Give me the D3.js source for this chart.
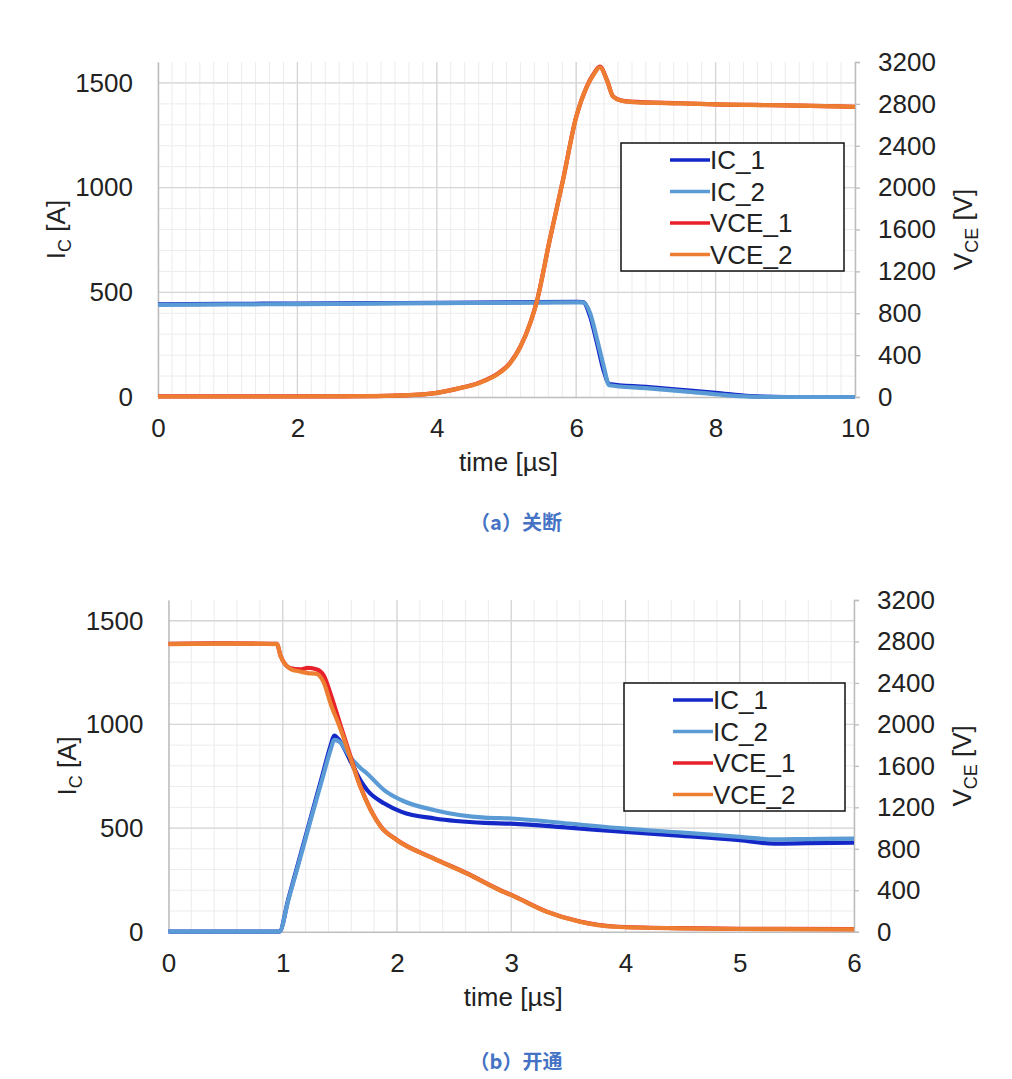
<!DOCTYPE html>
<html>
  <head>
    <meta charset="utf-8">
    <title>IGBT switching waveforms</title>
    <script src="https://d3js.org/d3.v7.min.js"></script>
    <style>
      body { margin: 0; background: #fff; }
      text { font-family: "Liberation Sans", Arial, sans-serif; fill: #222; }
    </style>
  </head>
  <body>
    <div id="chart"></div>
    <script>
      // ---- data ----
      // (a) turn-off, time in µs
      var offTimeIC = [0, 1, 2, 3, 4, 5, 6, 6.1, 6.2, 6.3, 6.4, 6.47, 7, 7.5, 8, 8.5, 9, 10];
      var offIC1 = [443, 445, 446, 448, 450, 452, 455, 453, 385, 255, 120, 62, 48, 34, 20, 4, 0, 0];
      var offIC2 = [440, 442, 444, 446, 448, 450, 452, 452, 400, 275, 140, 56, 42, 28, 13, 2, 0, 0];
      var offTimeV = [0, 1, 2, 3, 3.5, 4, 4.3, 4.6, 4.9, 5.05, 5.2, 5.34, 5.43, 5.62, 5.81, 6.0, 6.15, 6.25, 6.34, 6.44, 6.53, 6.65, 6.77, 7.5, 8, 9, 10];
      var offVCE1 = [6, 6, 6, 8, 15, 40, 80, 135, 235, 325, 482, 706, 900, 1500, 2072, 2677, 2963, 3085, 3155, 3030, 2870, 2832, 2822, 2806, 2796, 2786, 2772];
      var offVCE2 = [5, 5, 5, 8, 15, 40, 80, 132, 230, 320, 480, 706, 898, 1500, 2070, 2675, 2960, 3080, 3150, 3027, 2868, 2830, 2820, 2804, 2795, 2785, 2772];

      // (b) turn-on
      var onTimeIC = [0, 0.97, 1.05, 1.15, 1.25, 1.35, 1.42, 1.45, 1.5, 1.59, 1.68, 1.74, 1.89, 2.04, 2.33, 2.77, 3, 3.5, 4, 4.5, 5, 5.3, 5.6, 6];
      var onIC1 = [0, 0, 160, 360, 560, 760, 900, 946, 920, 826, 730, 682, 618, 578, 546, 525, 521, 502, 481, 462, 441, 425, 427, 430];
      var onIC2 = [0, 0, 155, 350, 550, 745, 880, 925, 915, 842, 790, 762, 682, 634, 586, 550, 546, 522, 497, 478, 457, 445, 447, 449];
      var onTimeV = [0, 0.5, 0.95, 0.98, 1.07, 1.15, 1.22, 1.3, 1.36, 1.42, 1.5, 1.59, 1.68, 1.77, 1.86, 2.0, 2.32, 2.61, 2.9, 3.0, 3.31, 3.6, 3.9, 4.48, 5, 6];
      var onVCE1 = [2778, 2782, 2776, 2665, 2540, 2530, 2545, 2530, 2470, 2290, 2010, 1700, 1400, 1175, 1012, 884, 708, 564, 402, 355, 194, 98, 50, 34, 28, 25];
      var onVCE2 = [2775, 2780, 2775, 2662, 2534, 2510, 2495, 2486, 2400, 2197, 1972, 1683, 1395, 1171, 1010, 882, 706, 562, 400, 353, 192, 96, 48, 32, 26, 23];

      var seriesNames = ["IC_1", "IC_2", "VCE_1", "VCE_2"];
      var seriesColors = ["#1428c8", "#5b9bd5", "#e8202a", "#ed7d31"];
      var leftTicks = [0, 500, 1000, 1500];
      var rightTicks = [0, 400, 800, 1200, 1600, 2000, 2400, 2800, 3200];

      var svg = d3.select("#chart").append("svg")
        .attr("width", 1012)
        .attr("height", 1079);

      function pairs(t, v) { return t.map(function (d, i) { return [d, v[i]]; }); }

      function drawChart(c) {
        var g = svg.append("g");
        var x = d3.scaleLinear().domain([0, c.tMax]).range([c.left, c.right]);
        var y = d3.scaleLinear().domain([0, 1600]).range([c.bottom, c.top]);
        var yR = d3.scaleLinear().domain([0, 3200]).range([c.bottom, c.top]);

        // minor grid
        g.append("g").selectAll("line")
          .data(d3.range(0, c.tMax + 0.001, 0.2))
          .enter().append("line")
            .attr("x1", function (d) { return x(d); }).attr("x2", function (d) { return x(d); })
            .attr("y1", c.top).attr("y2", c.bottom)
            .style("stroke", "#ececec").style("stroke-width", 1);
        g.append("g").selectAll("line")
          .data(d3.range(100, 1600, 100))
          .enter().append("line")
            .attr("x1", c.left).attr("x2", c.right)
            .attr("y1", function (d) { return y(d); }).attr("y2", function (d) { return y(d); })
            .style("stroke", "#ececec").style("stroke-width", 1);
        // major grid
        g.append("g").selectAll("line")
          .data(d3.range(c.tStep, c.tMax, c.tStep))
          .enter().append("line")
            .attr("x1", function (d) { return x(d); }).attr("x2", function (d) { return x(d); })
            .attr("y1", c.top).attr("y2", c.bottom)
            .style("stroke", "#d6d6d6").style("stroke-width", 1.3);
        g.append("g").selectAll("line")
          .data([500, 1000, 1500])
          .enter().append("line")
            .attr("x1", c.left).attr("x2", c.right)
            .attr("y1", function (d) { return y(d); }).attr("y2", function (d) { return y(d); })
            .style("stroke", "#d6d6d6").style("stroke-width", 1.3);

        // axes
        var ax = g.append("g").attr("transform", "translate(0," + c.bottom + ")")
          .call(d3.axisBottom(x).tickValues(d3.range(0, c.tMax + 0.001, c.tStep)).tickSize(0).tickPadding(22).tickFormat(d3.format("d")));
        var ay = g.append("g").attr("transform", "translate(" + c.left + ",0)")
          .call(d3.axisLeft(y).tickValues(leftTicks).tickSize(0).tickPadding(25).tickFormat(d3.format("d")));
        var ar = g.append("g").attr("transform", "translate(" + c.right + ",0)")
          .call(d3.axisRight(yR).tickValues(rightTicks).tickSize(5).tickPadding(18).tickFormat(d3.format("d")));
        [ax, ay, ar].forEach(function (a) {
          a.select(".domain").style("stroke", "#bdbdbd").style("stroke-width", 1.5);
          a.selectAll(".tick line").style("stroke", "#bdbdbd").style("stroke-width", 1.3);
          a.selectAll(".tick text").style("font-size", "26px").style("fill", "#222")
            .style("font-family", "'Liberation Sans', Arial, sans-serif");
        });

        // traces
        var lineL = d3.line().x(function (d) { return x(d[0]); }).y(function (d) { return y(d[1]); }).curve(d3.curveMonotoneX);
        var lineR = d3.line().x(function (d) { return x(d[0]); }).y(function (d) { return yR(d[1]); }).curve(d3.curveMonotoneX);
        var traces = [
          { d: lineL(pairs(c.tI, c.ic1)), col: seriesColors[0] },
          { d: lineL(pairs(c.tI, c.ic2)), col: seriesColors[1] },
          { d: lineR(pairs(c.tV, c.vce1)), col: seriesColors[2] },
          { d: lineR(pairs(c.tV, c.vce2)), col: seriesColors[3] }
        ];
        g.append("g").selectAll("path")
          .data(traces)
          .enter().append("path")
            .attr("d", function (d) { return d.d; })
            .style("fill", "none")
            .style("stroke", function (d) { return d.col; })
            .style("stroke-width", 4.2)
            .style("stroke-linejoin", "round");

        // axis titles
        g.append("text")
          .attr("x", (c.left + c.right) / 2 + 2).attr("y", c.bottom + 74)
          .attr("text-anchor", "middle").style("font-size", "26px")
          .text("time [µs]");
        var tl = g.append("text")
          .attr("transform", "translate(" + (c.left - 93) + "," + ((c.top + c.bottom) / 2) + ") rotate(-90)")
          .attr("text-anchor", "middle").style("font-size", "26px");
        tl.append("tspan").text("I");
        tl.append("tspan").attr("dy", 6).style("font-size", "18px").text("C");
        tl.append("tspan").attr("dy", -6).text(" [A]");
        var tr = g.append("text")
          .attr("transform", "translate(" + (c.right + 117) + "," + ((c.top + c.bottom) / 2) + ") rotate(-90)")
          .attr("text-anchor", "middle").style("font-size", "26px");
        tr.append("tspan").text("V");
        tr.append("tspan").attr("dy", 6).style("font-size", "18px").text("CE");
        tr.append("tspan").attr("dy", -6).text(" [V]");

        // legend
        var lg = g.append("g").attr("transform", "translate(" + c.legX + "," + c.legY + ")");
        lg.append("rect").attr("width", c.legW).attr("height", 128)
          .style("fill", "#fff").style("stroke", "#111").style("stroke-width", 1.5);
        var row = lg.selectAll("g.row").data(seriesNames).enter().append("g")
          .attr("transform", function (d, i) { return "translate(0," + (17 + i * 31.5) + ")"; });
        row.append("line").attr("x1", 49).attr("x2", 89).attr("y1", 0).attr("y2", 0)
          .style("stroke", function (d, i) { return seriesColors[i]; }).style("stroke-width", 3.6);
        row.append("text").attr("x", 89).attr("y", 9).style("font-size", "26px")
          .text(function (d) { return d; });

        // caption
        svg.append("text")
          .attr("x", 516).attr("y", c.capY)
          .attr("text-anchor", "middle")
          .style("font-family", "'Noto Sans CJK SC', sans-serif")
          .style("font-weight", "bold").style("font-size", "20px").style("fill", "#4472c4")
          .text(c.caption);
      }

      drawChart({
        left: 158, right: 855, top: 62, bottom: 397, tMax: 10, tStep: 2,
        tI: offTimeIC, ic1: offIC1, ic2: offIC2, tV: offTimeV, vce1: offVCE1, vce2: offVCE2,
        legX: 621, legY: 143, legW: 223, capY: 530, caption: "（a）关断"
      });
      drawChart({
        left: 168.5, right: 854, top: 600, bottom: 931.7, tMax: 6, tStep: 1,
        tI: onTimeIC, ic1: onIC1, ic2: onIC2, tV: onTimeV, vce1: onVCE1, vce2: onVCE2,
        legX: 624, legY: 683, legW: 221, capY: 1069, caption: "（b）开通"
      });
    </script>
  </body>
</html>
